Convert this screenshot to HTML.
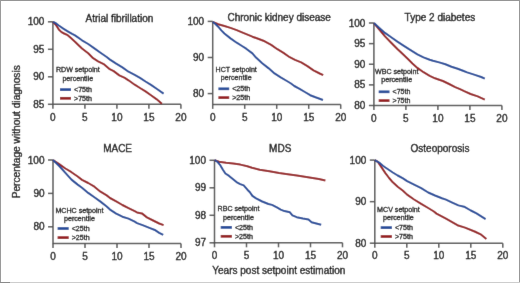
<!DOCTYPE html>
<html><head><meta charset="utf-8"><style>
html,body{margin:0;padding:0;background:#fff;}
body{width:520px;height:283px;overflow:hidden;position:relative;}
.b{position:absolute;}
svg{display:block;}
text{font-family:"Liberation Sans",sans-serif;fill:#0a0a0a;stroke:#0a0a0a;stroke-width:0.35px;}
text.l{stroke-width:0.28px;}
</style></head><body>
<svg width="520" height="283" viewBox="0 0 520 283">
<defs><filter id="bl" x="0" y="0" width="520" height="283" filterUnits="userSpaceOnUse"><feConvolveMatrix order="3" kernelMatrix="0.00490 0.06020 0.00490 0.06020 0.73960 0.06020 0.00490 0.06020 0.00490" edgeMode="duplicate"/></filter></defs>
<g filter="url(#bl)">
<rect x="0" y="0" width="520" height="283" fill="#fff"/>
<path d="M52.9 21.8V104.3H180.9" fill="none" stroke="#555555" stroke-width="1.5"/>
<path d="M47.9 21.8H52.9" stroke="#555555" stroke-width="1.5"/>
<text x="44.4" y="25.4" text-anchor="end" font-size="10">100</text>
<path d="M47.9 49.3H52.9" stroke="#555555" stroke-width="1.5"/>
<text x="44.4" y="52.9" text-anchor="end" font-size="10">95</text>
<path d="M47.9 76.8H52.9" stroke="#555555" stroke-width="1.5"/>
<text x="44.4" y="80.4" text-anchor="end" font-size="10">90</text>
<path d="M47.9 104.3H52.9" stroke="#555555" stroke-width="1.5"/>
<text x="44.4" y="107.9" text-anchor="end" font-size="10">85</text>
<path d="M52.9 104.3V108.8" stroke="#555555" stroke-width="1.5"/>
<text x="52.9" y="120.5" text-anchor="middle" font-size="10">0</text>
<path d="M84.9 104.3V108.8" stroke="#555555" stroke-width="1.5"/>
<text x="84.9" y="120.5" text-anchor="middle" font-size="10">5</text>
<path d="M116.9 104.3V108.8" stroke="#555555" stroke-width="1.5"/>
<text x="116.9" y="120.5" text-anchor="middle" font-size="10">10</text>
<path d="M148.9 104.3V108.8" stroke="#555555" stroke-width="1.5"/>
<text x="148.9" y="120.5" text-anchor="middle" font-size="10">15</text>
<path d="M180.9 104.3V108.8" stroke="#555555" stroke-width="1.5"/>
<text x="180.9" y="120.5" text-anchor="middle" font-size="10">20</text>
<text x="119.4" y="21.6" text-anchor="middle" font-size="10">Atrial fibrillation</text>
<text x="77.8" y="72.2" text-anchor="middle" font-size="7.1" class="l">RDW setpoint</text>
<text x="77.8" y="80.5" text-anchor="middle" font-size="7.1" class="l">percentile</text>
<path d="M60 89.6H71" stroke="#244b99" stroke-width="2.7"/>
<path d="M60 98.3H71" stroke="#951a1d" stroke-width="2.7"/>
<text x="74" y="91.9" font-size="7.1" class="l">&lt;75th</text>
<text x="74" y="100.6" font-size="7.1" class="l">&gt;75th</text>
<path d="M53 21.8 L55.3 24.2 L57.1 26.8 L58.8 29.5 L61.5 32.1 L64.1 33.5 L67.7 35.2 L71.2 38.3 L75 41.7 L82 48.5 L88.2 53.3 L93.1 58.2 L98.1 61.3 L104.2 64.4 L109.2 68.8 L113.7 71.1 L119.3 75.4 L124.8 77.9 L128.5 80.3 L134.7 84.7 L140 88 L145.5 91.4 L151 95.3 L156.4 99.1 L161.9 103.7" fill="none" stroke="#951a1d" stroke-width="2.0" stroke-linejoin="round"/>
<path d="M53 21.8 L55.3 22.9 L58.8 25.5 L63.3 28.6 L67.7 31.3 L72.1 33.9 L75 35.4 L82 40.3 L88.2 44 L94.4 48.4 L100.5 52.7 L106.7 57 L110 59.6 L116.2 63.7 L122.4 67.4 L128.5 71.7 L134.7 74.8 L140 77.8 L145.5 81.5 L151 84.9 L157 89 L163.6 93.6" fill="none" stroke="#244b99" stroke-width="2.0" stroke-linejoin="round"/>
<path d="M212.7 21.4V104.4H340.7" fill="none" stroke="#555555" stroke-width="1.5"/>
<path d="M207.7 21.4H212.7" stroke="#555555" stroke-width="1.5"/>
<text x="204.2" y="25" text-anchor="end" font-size="10">100</text>
<path d="M207.7 57.49H212.7" stroke="#555555" stroke-width="1.5"/>
<text x="204.2" y="61.09" text-anchor="end" font-size="10">90</text>
<path d="M207.7 93.57H212.7" stroke="#555555" stroke-width="1.5"/>
<text x="204.2" y="97.17" text-anchor="end" font-size="10">80</text>
<path d="M212.7 104.4V108.9" stroke="#555555" stroke-width="1.5"/>
<text x="212.7" y="120.6" text-anchor="middle" font-size="10">0</text>
<path d="M244.7 104.4V108.9" stroke="#555555" stroke-width="1.5"/>
<text x="244.7" y="120.6" text-anchor="middle" font-size="10">5</text>
<path d="M276.7 104.4V108.9" stroke="#555555" stroke-width="1.5"/>
<text x="276.7" y="120.6" text-anchor="middle" font-size="10">10</text>
<path d="M308.7 104.4V108.9" stroke="#555555" stroke-width="1.5"/>
<text x="308.7" y="120.6" text-anchor="middle" font-size="10">15</text>
<path d="M340.7 104.4V108.9" stroke="#555555" stroke-width="1.5"/>
<text x="340.7" y="120.6" text-anchor="middle" font-size="10">20</text>
<text x="279.2" y="21.2" text-anchor="middle" font-size="10">Chronic kidney disease</text>
<text x="236.2" y="71.5" text-anchor="middle" font-size="7.1" class="l">HCT setpoint</text>
<text x="236.2" y="79.8" text-anchor="middle" font-size="7.1" class="l">percentile</text>
<path d="M218.4 88.8H229.2" stroke="#244b99" stroke-width="2.7"/>
<path d="M218.4 97.6H229.2" stroke="#951a1d" stroke-width="2.7"/>
<text x="232.2" y="91.1" font-size="7.1" class="l">&lt;25th</text>
<text x="232.2" y="99.9" font-size="7.1" class="l">&gt;25th</text>
<path d="M212.7 21.8 L218.2 24.2 L224.4 26 L230.5 27.9 L236.7 30.1 L242 32.3 L252.4 36.7 L258.8 39 L264.7 41.3 L271.2 44.9 L277.4 49.2 L283.5 52.9 L289.7 57.2 L295 59.9 L301.2 62.4 L307.4 66.1 L313.5 70.4 L319.7 73.5 L323.2 75.1" fill="none" stroke="#951a1d" stroke-width="2.0" stroke-linejoin="round"/>
<path d="M212.7 21.8 L215.7 24.2 L218.2 26.7 L221.3 30.4 L224.4 33.5 L230.5 38.4 L236.7 42.7 L242 46 L246.2 48.7 L252.4 53.4 L256 57.6 L262.2 63.2 L268.4 68.1 L274.5 73.4 L280.7 77.3 L286.9 81 L291 83.5 L294.3 86 L299.6 88.8 L304.9 92 L310.2 95.2 L315.5 97.3 L323 100" fill="none" stroke="#244b99" stroke-width="2.0" stroke-linejoin="round"/>
<path d="M373.9 23V105.5H501.9" fill="none" stroke="#555555" stroke-width="1.5"/>
<path d="M368.9 23H373.9" stroke="#555555" stroke-width="1.5"/>
<text x="365.4" y="26.6" text-anchor="end" font-size="10">100</text>
<path d="M368.9 43.62H373.9" stroke="#555555" stroke-width="1.5"/>
<text x="365.4" y="47.23" text-anchor="end" font-size="10">95</text>
<path d="M368.9 64.25H373.9" stroke="#555555" stroke-width="1.5"/>
<text x="365.4" y="67.85" text-anchor="end" font-size="10">90</text>
<path d="M368.9 84.88H373.9" stroke="#555555" stroke-width="1.5"/>
<text x="365.4" y="88.47" text-anchor="end" font-size="10">85</text>
<path d="M368.9 105.5H373.9" stroke="#555555" stroke-width="1.5"/>
<text x="365.4" y="109.1" text-anchor="end" font-size="10">80</text>
<path d="M373.9 105.5V110" stroke="#555555" stroke-width="1.5"/>
<text x="373.9" y="121.7" text-anchor="middle" font-size="10">0</text>
<path d="M405.9 105.5V110" stroke="#555555" stroke-width="1.5"/>
<text x="405.9" y="121.7" text-anchor="middle" font-size="10">5</text>
<path d="M437.9 105.5V110" stroke="#555555" stroke-width="1.5"/>
<text x="437.9" y="121.7" text-anchor="middle" font-size="10">10</text>
<path d="M469.9 105.5V110" stroke="#555555" stroke-width="1.5"/>
<text x="469.9" y="121.7" text-anchor="middle" font-size="10">15</text>
<path d="M501.9 105.5V110" stroke="#555555" stroke-width="1.5"/>
<text x="501.9" y="121.7" text-anchor="middle" font-size="10">20</text>
<text x="439.9" y="20.8" text-anchor="middle" font-size="10">Type 2 diabetes</text>
<text x="396.7" y="73.5" text-anchor="middle" font-size="7.1" class="l">WBC setpoint</text>
<text x="396.7" y="81.8" text-anchor="middle" font-size="7.1" class="l">percentile</text>
<path d="M378.7 91.8H389.5" stroke="#244b99" stroke-width="2.7"/>
<path d="M378.7 100.6H389.5" stroke="#951a1d" stroke-width="2.7"/>
<text x="392.5" y="94.1" font-size="7.1" class="l">&lt;75th</text>
<text x="392.5" y="102.9" font-size="7.1" class="l">&gt;75th</text>
<path d="M374 23.1 L379.1 29.4 L385 36.4 L391.2 42.8 L397.4 49 L403.5 54.8 L408.7 59.8 L412.4 63.5 L417.4 67.9 L423.5 72.2 L429.7 75.9 L435 78.3 L439.2 79.7 L442.9 81 L449.1 84 L455.2 87.1 L460 89.2 L464.2 91.2 L470.6 94 L477.7 96.4 L484.8 99.7" fill="none" stroke="#951a1d" stroke-width="2.0" stroke-linejoin="round"/>
<path d="M374 23.1 L379.1 27.8 L385 32.9 L391.2 37.3 L397.4 41.6 L403.5 45.6 L409 49.2 L417.4 54.3 L423.5 57.4 L429.7 59.8 L433 60.8 L439.2 62.4 L445.4 64.3 L451.5 66.7 L457.7 68.8 L463 70.8 L467.1 72.4 L474.1 74.6 L481.2 77 L484.8 78.7" fill="none" stroke="#244b99" stroke-width="2.0" stroke-linejoin="round"/>
<path d="M53 160V243.5H181" fill="none" stroke="#555555" stroke-width="1.5"/>
<path d="M48 160H53" stroke="#555555" stroke-width="1.5"/>
<text x="44.5" y="163.6" text-anchor="end" font-size="10">100</text>
<path d="M48 193.4H53" stroke="#555555" stroke-width="1.5"/>
<text x="44.5" y="197" text-anchor="end" font-size="10">90</text>
<path d="M48 226.8H53" stroke="#555555" stroke-width="1.5"/>
<text x="44.5" y="230.4" text-anchor="end" font-size="10">80</text>
<path d="M53 243.5V248" stroke="#555555" stroke-width="1.5"/>
<text x="53" y="259.7" text-anchor="middle" font-size="10">0</text>
<path d="M85 243.5V248" stroke="#555555" stroke-width="1.5"/>
<text x="85" y="259.7" text-anchor="middle" font-size="10">5</text>
<path d="M117 243.5V248" stroke="#555555" stroke-width="1.5"/>
<text x="117" y="259.7" text-anchor="middle" font-size="10">10</text>
<path d="M149 243.5V248" stroke="#555555" stroke-width="1.5"/>
<text x="149" y="259.7" text-anchor="middle" font-size="10">15</text>
<path d="M181 243.5V248" stroke="#555555" stroke-width="1.5"/>
<text x="181" y="259.7" text-anchor="middle" font-size="10">20</text>
<text x="117.6" y="152.1" text-anchor="middle" font-size="10">MACE</text>
<text x="79.45" y="213.1" text-anchor="middle" font-size="7.1" class="l">MCHC setpoint</text>
<text x="79.45" y="221.4" text-anchor="middle" font-size="7.1" class="l">percentile</text>
<path d="M57.6 228.5H68.7" stroke="#244b99" stroke-width="2.7"/>
<path d="M57.6 237.6H68.7" stroke="#951a1d" stroke-width="2.7"/>
<text x="71.7" y="230.8" font-size="7.1" class="l">&lt;25th</text>
<text x="71.7" y="239.9" font-size="7.1" class="l">&gt;25th</text>
<path d="M53 160 L59.2 164.2 L65.4 168.5 L71.5 172.2 L77.7 176.5 L82 179.9 L88.2 183 L94.4 186.7 L100.5 191.7 L106.7 195.4 L110 198 L116.2 201.3 L122.4 205 L128.5 208.1 L134.7 211.2 L137 212.4 L141.9 213.4 L146.9 217.4 L153.1 220.5 L159.2 223.5 L163.6 225.1" fill="none" stroke="#951a1d" stroke-width="2.0" stroke-linejoin="round"/>
<path d="M53 160 L59.2 166 L65.4 172.8 L71.5 179.6 L77.7 184.6 L82 187.8 L88.2 192.9 L94.4 197.2 L100.5 201.6 L106.7 206.5 L110 209.6 L116.2 213.6 L122.4 216.7 L128.5 218.6 L134.7 221.7 L137 223.1 L143.2 225.4 L149.4 227.9 L155.5 230.3 L159.2 232.8 L163.2 234.9" fill="none" stroke="#244b99" stroke-width="2.0" stroke-linejoin="round"/>
<path d="M214.5 160.3V242.8H342.5" fill="none" stroke="#555555" stroke-width="1.5"/>
<path d="M209.5 160.3H214.5" stroke="#555555" stroke-width="1.5"/>
<text x="206" y="163.9" text-anchor="end" font-size="10">100</text>
<path d="M209.5 187.8H214.5" stroke="#555555" stroke-width="1.5"/>
<text x="206" y="191.4" text-anchor="end" font-size="10">99</text>
<path d="M209.5 215.3H214.5" stroke="#555555" stroke-width="1.5"/>
<text x="206" y="218.9" text-anchor="end" font-size="10">98</text>
<path d="M209.5 242.8H214.5" stroke="#555555" stroke-width="1.5"/>
<text x="206" y="246.4" text-anchor="end" font-size="10">97</text>
<path d="M214.5 242.8V247.3" stroke="#555555" stroke-width="1.5"/>
<text x="214.5" y="259" text-anchor="middle" font-size="10">0</text>
<path d="M246.5 242.8V247.3" stroke="#555555" stroke-width="1.5"/>
<text x="246.5" y="259" text-anchor="middle" font-size="10">5</text>
<path d="M278.5 242.8V247.3" stroke="#555555" stroke-width="1.5"/>
<text x="278.5" y="259" text-anchor="middle" font-size="10">10</text>
<path d="M310.5 242.8V247.3" stroke="#555555" stroke-width="1.5"/>
<text x="310.5" y="259" text-anchor="middle" font-size="10">15</text>
<path d="M342.5 242.8V247.3" stroke="#555555" stroke-width="1.5"/>
<text x="342.5" y="259" text-anchor="middle" font-size="10">20</text>
<text x="280.2" y="152.1" text-anchor="middle" font-size="10">MDS</text>
<text x="238.5" y="211.2" text-anchor="middle" font-size="7.1" class="l">RBC setpoint</text>
<text x="238.5" y="219.5" text-anchor="middle" font-size="7.1" class="l">percentile</text>
<path d="M220.7 227.4H231.9" stroke="#244b99" stroke-width="2.7"/>
<path d="M220.7 236.3H231.9" stroke="#951a1d" stroke-width="2.7"/>
<text x="234.9" y="229.7" font-size="7.1" class="l">&lt;25th</text>
<text x="234.9" y="238.6" font-size="7.1" class="l">&gt;25th</text>
<path d="M214.5 160.2 L219.1 161.7 L226.1 162.7 L233.2 163.4 L240.3 164.6 L247.3 166.3 L252 167.7 L259.7 169.8 L269.4 171.2 L279.1 173.1 L286 174 L296.9 175.5 L307.9 177.3 L318.8 179 L325.4 180.5" fill="none" stroke="#951a1d" stroke-width="2.0" stroke-linejoin="round"/>
<path d="M214.5 160.2 L215.5 160.5 L217.9 162.3 L220.4 165.4 L222.9 169.7 L225.4 173.5 L229.1 175.9 L232.8 179 L236.5 182.1 L240.2 184.1 L243.7 185.4 L247.4 189.7 L249.9 192.2 L252.4 195.9 L256.1 198.4 L262.2 201.5 L268.4 204 L272 204.9 L276.9 207.4 L280.7 209.6 L284.4 211.1 L289.9 212.3 L292.4 215.4 L296.7 217.2 L302.9 218.5 L308.5 219.5 L311.6 222.2 L315.3 223.2 L321.2 224.7" fill="none" stroke="#244b99" stroke-width="2.0" stroke-linejoin="round"/>
<path d="M374.8 160.1V243.2H502.8" fill="none" stroke="#555555" stroke-width="1.5"/>
<path d="M369.8 160.1H374.8" stroke="#555555" stroke-width="1.5"/>
<text x="366.3" y="163.7" text-anchor="end" font-size="10">100</text>
<path d="M369.8 201.65H374.8" stroke="#555555" stroke-width="1.5"/>
<text x="366.3" y="205.25" text-anchor="end" font-size="10">90</text>
<path d="M369.8 243.2H374.8" stroke="#555555" stroke-width="1.5"/>
<text x="366.3" y="246.8" text-anchor="end" font-size="10">80</text>
<path d="M374.8 243.2V247.7" stroke="#555555" stroke-width="1.5"/>
<text x="374.8" y="259.4" text-anchor="middle" font-size="10">0</text>
<path d="M406.8 243.2V247.7" stroke="#555555" stroke-width="1.5"/>
<text x="406.8" y="259.4" text-anchor="middle" font-size="10">5</text>
<path d="M438.8 243.2V247.7" stroke="#555555" stroke-width="1.5"/>
<text x="438.8" y="259.4" text-anchor="middle" font-size="10">10</text>
<path d="M470.8 243.2V247.7" stroke="#555555" stroke-width="1.5"/>
<text x="470.8" y="259.4" text-anchor="middle" font-size="10">15</text>
<path d="M502.8 243.2V247.7" stroke="#555555" stroke-width="1.5"/>
<text x="502.8" y="259.4" text-anchor="middle" font-size="10">20</text>
<text x="440" y="152.1" text-anchor="middle" font-size="10">Osteoporosis</text>
<text x="398.4" y="211.5" text-anchor="middle" font-size="7.1" class="l">MCV setpoint</text>
<text x="398.4" y="219.8" text-anchor="middle" font-size="7.1" class="l">percentile</text>
<path d="M380.7 227.6H391.9" stroke="#244b99" stroke-width="2.7"/>
<path d="M380.7 236.5H391.9" stroke="#951a1d" stroke-width="2.7"/>
<text x="394.9" y="229.9" font-size="7.1" class="l">&lt;75th</text>
<text x="394.9" y="238.8" font-size="7.1" class="l">&gt;75th</text>
<path d="M374.8 160.1 L377.9 161.9 L380.4 165.7 L382.9 169.4 L385.4 173.1 L389.1 178 L392.8 182.3 L397.7 186.7 L403 190.7 L407.1 194.6 L414.1 199.5 L421.2 203.8 L428.2 208 L433.9 211.5 L436.5 213.6 L446 218.7 L451.7 221.9 L457.4 225.2 L465 227.6 L474.6 231.5 L481.2 234.7 L486.4 239.1" fill="none" stroke="#951a1d" stroke-width="2.0" stroke-linejoin="round"/>
<path d="M374.8 160.1 L379.2 162.6 L382.9 165.7 L385.4 167.5 L389.1 170 L392.8 172.5 L397.7 175.5 L403 178.4 L407.1 181.2 L414.1 184.7 L421.2 188.2 L428.2 192.5 L435 195.5 L441.9 198.2 L446 199.6 L451.7 202.3 L458.4 205.4 L464.1 206.7 L470.8 210.5 L476.5 213.4 L485.6 219.1" fill="none" stroke="#244b99" stroke-width="2.0" stroke-linejoin="round"/>
<text x="212.3" y="274" font-size="10">Years post setpoint estimation</text>
<text transform="translate(19.8 131.8) rotate(-90)" text-anchor="middle" font-size="10.2">Percentage without diagnosis</text>
</g>
</svg>
<div class="b" style="left:0;top:0;width:520px;height:1px;background:#959595"></div>
<div class="b" style="left:0;top:0;width:1px;height:283px;background:#9a9a9a"></div>
<div class="b" style="left:519px;top:0;width:1px;height:283px;background:#979797"></div>
<div class="b" style="left:0;top:282px;width:520px;height:1px;background:#cdcdcd"></div>
<div class="b" style="left:0;top:282px;width:10px;height:1px;background:#8a8a8a"></div>
</body></html>
